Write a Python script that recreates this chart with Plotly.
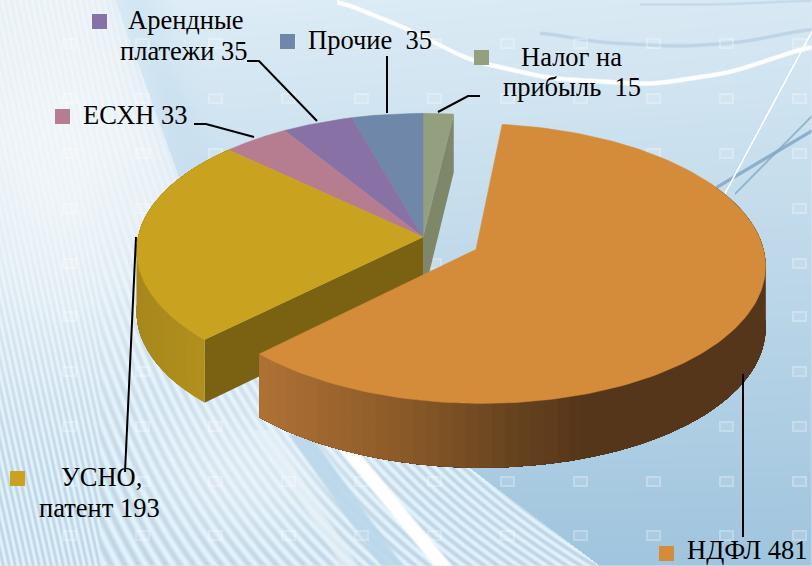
import numpy as np
import plotly.graph_objects as go

# ---------- data ----------
categories = ["Налог на прибыль", "НДФЛ", "УСНО, патент", "ЕСХН", "Арендные платежи", "Прочие"]
values = [15, 481, 193, 33, 35, 35]
explode = [0, 0.205, 0, 0, 0, 0]
top_colors = ["#939F7E", "#D48C3A", "#C9A21F", "#B57D8F", "#8872A5", "#6F87A8"]

label_lines = [
    ["Арендные", 128, 30], ["платежи 35", 120, 61],
    ["Прочие  35", 308, 50],
    ["Налог на", 521, 67], ["прибыль  15", 503, 97],
    ["ЕСХН 33", 83, 125],
    ["УСНО,", 61, 487], ["патент 193", 39, 518],
    ["НДФЛ 481", 687, 560],
]
legend_marks = [[99.5, 21.5, "#8872A5"], [287.5, 41.5, "#6F87A8"], [481.5, 57.5, "#939F7E"],
                [62.5, 116.5, "#B57D8F"], [17.5, 478.5, "#C9A21F"], [666.5, 553.5, "#D48C3A"]]
leaders = [
    [[247, 259, 317], [61, 61, 121]],
    [[387, 387], [56, 113]],
    [[438, 468, 480], [112, 96, 96]],
    [[194, 206, 254], [124, 124, 137]],
    [[136, 125], [237, 472]],
    [[743, 743], [374, 537]],
]

# ---------- page geometry ----------
W, H = 812, 566
CX, CY, A, B, K = 423, 237, 285, 136, 0.10


# ---------- background picture ----------
def make_background():
    yy, xx = np.mgrid[0:H, 0:W].astype(float)
    t = yy / H
    img = np.zeros((H, W, 3))
    top = np.array([224, 238, 247.0])
    bot = np.array([160, 197, 222.0])
    for c in range(3):
        img[..., c] = top[c] + (bot[c] - top[c]) * (t + 0.12 * (xx / W) * (1 - t))

    def blend(alpha, col):
        a = np.clip(alpha, 0, 1)[..., None]
        img[:] = img * (1 - a) + np.array(col, float) * a

    # hatched left region
    bx = np.interp(yy, [0, 175, 400, 468, 566], [115, 178, 330, 470, 600])
    hatch = (xx < bx).astype(float)
    base = np.zeros((H, W, 3))
    htop = np.array([236, 243, 248.0])
    hbot = np.array([208, 228, 241.0])
    for c in range(3):
        base[..., c] = htop[c] + (hbot[c] - htop[c]) * np.clip((t - 0.25) / 0.6, 0, 1)
    slope = 0.22 + 0.5 * np.clip((xx - 100) / 500, 0, 1)
    stripes = np.sin(2 * np.pi * (xx - slope * yy) / 6.0)
    amp = 3 + 13 * np.clip((t - 0.35) / 0.5, 0, 1)
    for c in range(3):
        base[..., c] = np.clip(base[..., c] + stripes * amp, 0, 255)
    img[:] = img * (1 - hatch[..., None]) + base * hatch[..., None]
    # soft light patches in the hatched area
    blend(0.55 * np.exp(-(((xx - 250) / 110) ** 2 + ((yy - 470) / 70) ** 2)), (240, 246, 250))
    blend(0.5 * np.exp(-(((xx - 60) / 80) ** 2 + ((yy - 200) / 130) ** 2)), (246, 249, 251))
    # blue wedge next to boundary
    blend(0.35 * np.exp(-((xx - bx - 20) / 25) ** 2) * (yy < 200), (190, 218, 238))

    def ray(x0, y0, x1, y1, w, col, al=1.0):
        xc = x0 + (yy - y0) * (x1 - x0) / (y1 - y0)
        m = (yy >= y0) & (yy <= y1)
        blend(al * np.clip((w - np.abs(xx - xc)) / 4, 0, 1) * m, col)

    ray(300, 435, 392, 566, 13, (186, 215, 234), 0.9)
    ray(340, 440, 443, 566, 11, (255, 255, 255))
    ray(262, 430, 350, 566, 10, (232, 241, 247), 0.7)

    def arc(px, py, w, col, al=1.0):
        xs = np.arange(W)
        ys = np.interp(xs, px, py)
        ys = np.convolve(np.pad(ys, 20, mode="edge"), np.ones(41) / 41, mode="valid")
        yc = np.interp(xx, xs, ys)
        m = (xx >= px[0]) & (xx <= px[-1])
        blend(al * np.clip((w - np.abs(yy - yc)) / 1.5, 0, 1) * m, col)

    arc([540, 600, 680, 740, 812], [32, 42, 46, 42, 28], 2.5, (165, 195, 217), 0.5)
    arc([640, 720, 812], [4, 4, 0], 2, (175, 203, 222), 0.5)
    arc([337, 406, 470, 550, 650, 730, 812], [0, 28, 60, 78, 84, 72, 45], 3.0, (255, 255, 255))
    # straight white line and blue ribbons at right
    for (x0, y0, x1, y1, w, col, al) in [
        (716, 187, 812, 130, 2.5, (125, 165, 195), 0.8),
        (735, 193, 812, 115, 2.0, (125, 165, 195), 0.7),
        (725, 192, 812, 30, 2.2, (255, 255, 255), 1.0),
    ]:
        yc = y0 + (xx - x0) * (y1 - y0) / (x1 - x0)
        m = (xx >= x0) & (xx <= x1)
        blend(al * np.clip((w - np.abs(yy - yc)) / 1.2, 0, 1) * m, col)

    # small watermark frames
    frame = np.zeros((H, W))
    for cx in np.arange(799, 0, -73):
        for cy in [43, 98, 153, 208, 263, 316, 371, 426, 481, 535]:
            x0, x1, y0, y1 = int(cx - 7), int(cx + 7), int(cy - 5), int(cy + 5)
            frame[y0:y1 + 1, x0:x1 + 1] = 0.08
            frame[y0:y0 + 2, x0:x1 + 1] = 0.3
            frame[y1 - 1:y1 + 1, x0:x1 + 1] = 0.3
            frame[y0:y1 + 1, x0:x0 + 2] = 0.3
            frame[y0:y1 + 1, x1 - 1:x1 + 1] = 0.3
    blend(frame, (255, 255, 255))
    return np.clip(img, 0, 255).astype(np.uint8)


# ---------- pie geometry, from values ----------
vals = np.array(values, float)
edges = np.concatenate([[0], np.cumsum(vals)]) / vals.sum() * 360.0


def offset(i):
    mid = np.radians((edges[i] + edges[i + 1]) / 2)
    return explode[i] * np.sin(mid), -explode[i] * np.cos(mid)


def pr(u, v):
    w = 1 - K * v
    return CX + A * u / w, CY + B * v / w, 61 + 3 * v


def project(i, th_deg):
    th = np.radians(np.asarray(th_deg, float))
    ou, ov = offset(i)
    return pr(np.sin(th) + ou, -np.cos(th) + ov)


def apex(i):
    ou, ov = offset(i)
    return pr(np.array([ou]), np.array([ov]))


fig = go.Figure()
fig.add_trace(go.Image(z=make_background().tolist(), x0=0, y0=0, dx=1, dy=1, hoverinfo="skip"))


def poly(xs, ys, col, lw=0.0):
    fig.add_trace(go.Scatter(x=list(xs), y=list(ys), mode="lines", fill="toself", fillcolor=col,
                             line=dict(color=col, width=lw), hoverinfo="skip", showlegend=False))


def mix(stops, x):
    px = [s[0] for s in stops]
    return "rgb(%d,%d,%d)" % tuple(np.interp(x, px, [s[1][c] for s in stops]) for c in range(3))


def cut_face(i, th, col):
    ax, ay, ad = apex(i)
    ex, ey, ed = project(i, [th])
    poly([ax[0], ex[0], ex[0], ax[0]], [ay[0], ey[0], ey[0] + ed[0], ay[0] + ad[0]], col)


def wall(i, t0, t1, stops, n=70):
    """Each band runs on to the far end of the wall; the next one paints over it, so no seams show."""
    ts = np.linspace(t0, t1, n + 1)
    x, y, d = project(i, ts)
    for j in range(n):
        col = mix(stops, (x[j] + x[j + 1]) / 2)
        xs = np.r_[x[j:], x[j:][::-1]]
        ys = np.r_[y[j:], (y + d)[j:][::-1]]
        poly(xs, ys, col)


def top(i):
    ts = np.linspace(edges[i], edges[i + 1], 160)
    x, y, _ = project(i, ts)
    ax, ay, _ = apex(i)
    poly(np.r_[ax, x, ax], np.r_[ay, y, ay], top_colors[i], 0.5)


# back to front
cut_face(0, edges[1], "#7F8769")
cut_face(2, edges[2], "#7A6212")
wall(2, edges[2], edges[3], [(136, (166, 136, 28)), (207, (178, 144, 30))], 30)
for i in [0, 5, 4, 3, 2]:
    top(i)
wall(1, 60, edges[2], [(258, (176, 114, 54)), (406, (138, 90, 40)), (500, (107, 70, 32)),
                       (586, (85, 54, 26)), (812, (85, 54, 26))], 70)
top(1)

# leaders
for lx, ly in leaders:
    fig.add_trace(go.Scatter(x=lx, y=ly, mode="lines", line=dict(color="black", width=2),
                             hoverinfo="skip", showlegend=False))
# legend squares
for mx, my, mc in legend_marks:
    fig.add_trace(go.Scatter(x=[mx], y=[my], mode="markers",
                             marker=dict(symbol="square", size=15, color=mc, line=dict(width=0)),
                             hoverinfo="skip", showlegend=False))
# text
for txt, tx, ty in label_lines:
    fig.add_annotation(x=tx, y=ty, text=txt, showarrow=False, xanchor="left", yanchor="bottom",
                       yshift=-5, borderpad=0, borderwidth=0,
                       font=dict(family="Liberation Serif", size=26.5, color="black"))

fig.update_layout(
    width=W, height=H, margin=dict(l=0, r=0, t=0, b=0), showlegend=False,
    paper_bgcolor="#dbe9f3", plot_bgcolor="#dbe9f3",
    xaxis=dict(range=[0, W], visible=False, fixedrange=True),
    yaxis=dict(range=[H, 0], visible=False, fixedrange=True),
)
fig.write_html("out.html", config={"displayModeBar": False},
               post_script="document.documentElement.style.margin='0';document.body.style.margin='0';"
                           "document.body.style.overflow='hidden';")
